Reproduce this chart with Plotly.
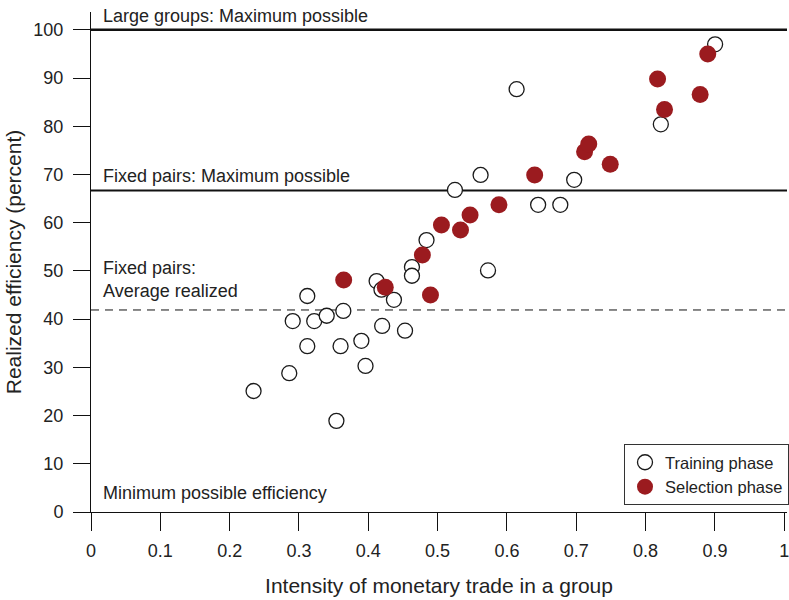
import plotly.graph_objects as go

# Training phase (open circles)
train_x = [0.2345, 0.286, 0.291, 0.312, 0.312, 0.322, 0.340, 0.360, 0.364, 0.354,
           0.390, 0.396, 0.412, 0.420, 0.419, 0.437, 0.453, 0.463, 0.463, 0.484,
           0.525, 0.562, 0.5727, 0.614, 0.645, 0.677, 0.697, 0.822, 0.9003]
train_y = [25.1, 28.8, 39.6, 44.8, 34.4, 39.6, 40.7, 34.4, 41.7, 18.9,
           35.5, 30.3, 47.9, 38.6, 46.1, 44.0, 37.6, 50.8, 49.0, 56.4,
           66.8, 69.9, 50.1, 87.7, 63.7, 63.7, 68.9, 80.4, 97.0]

# Selection phase (filled red)
sel_x = [0.3645, 0.4245, 0.4897, 0.478, 0.5055, 0.533, 0.5468, 0.5885, 0.640,
         0.712, 0.718, 0.749, 0.8173, 0.8273, 0.8787, 0.8897]
sel_y = [48.1, 46.6, 45.0, 53.3, 59.5, 58.5, 61.6, 63.7, 69.9,
         74.7, 76.3, 72.1, 89.8, 83.5, 86.6, 95.0]

# Reference levels
large_max = 100
pairs_max = 66.7
pairs_avg = 41.9

x_ticks = [0, 0.1, 0.2, 0.3, 0.4, 0.5, 0.6, 0.7, 0.8, 0.9, 1]
x_tick_labels = ["0", "0.1", "0.2", "0.3", "0.4", "0.5", "0.6", "0.7", "0.8", "0.9", "1"]
y_ticks = list(range(0, 101, 10))

RED = "#9B1B1F"
FONT = "Liberation Sans, Arial, sans-serif"

fig = go.Figure()
fig.add_trace(go.Scatter(
    x=train_x, y=train_y, mode="markers", name="Training phase",
    marker=dict(size=15, color="white", line=dict(color="#1a1a1a", width=1.3)),
))
fig.add_trace(go.Scatter(
    x=sel_x, y=sel_y, mode="markers", name="Selection phase",
    marker=dict(size=17, color=RED, line=dict(width=0)),
))

fig.add_shape(type="line", xref="paper", x0=0, x1=1, yref="y", y0=large_max, y1=large_max,
              line=dict(color="#111", width=2.5), layer="below")
fig.add_shape(type="line", xref="paper", x0=0, x1=1, yref="y", y0=pairs_max, y1=pairs_max,
              line=dict(color="#111", width=2), layer="below")
fig.add_shape(type="line", xref="paper", x0=0, x1=1, yref="y", y0=pairs_avg, y1=pairs_avg,
              line=dict(color="#111", width=1, dash="8px,6px"), layer="below")

ann_font = dict(family=FONT, size=18, color="#222")
def ann(text, y):
    fig.add_annotation(text=text, xref="paper", x=0.0145, yref="y", y=y,
                       xanchor="left", yanchor="middle", showarrow=False,
                       font=ann_font, align="left")

ann("Large groups: Maximum possible", 102.9)
ann("Fixed pairs: Maximum possible", 69.7)
ann("Fixed pairs:<br>Average realized", 48.2)
ann("Minimum possible efficiency", 3.9)

fig.update_layout(
    width=789, height=600,
    margin=dict(l=91, r=0, t=12, b=88),
    plot_bgcolor="white", paper_bgcolor="white",
    font=dict(family=FONT, size=18, color="#222"),
    showlegend=True,
    legend=dict(x=0.766, y=0.014, xanchor="left", yanchor="bottom",
                bordercolor="#333", borderwidth=1, bgcolor="white",
                tracegroupgap=0, itemwidth=30,
                font=dict(family=FONT, size=16.5, color="#222")),
    xaxis=dict(range=[0, 1.004], tickvals=x_ticks, ticktext=x_tick_labels,
               automargin=False, ticklabeloverflow="allow",
               showgrid=False, zeroline=False, showline=True, linecolor="#111",
               linewidth=1, ticks="outside", ticklen=18, tickcolor="#111",
               ticklabelstandoff=4,
               title=dict(text="Intensity of monetary trade in a group",
                          font=dict(size=21), standoff=18)),
    yaxis=dict(range=[0, 103.7], tickvals=y_ticks,
               automargin=False,
               showgrid=False, zeroline=False, showline=True, linecolor="#111",
               linewidth=1, ticks="outside", ticklen=17, tickcolor="#111",
               ticklabelstandoff=6,
               title=dict(text="Realized efficiency (percent)",
                          font=dict(size=21), standoff=6)),
)

fig.write_html("out.html", config={"displayModeBar": False},
               post_script="document.body.style.margin='0px';")
